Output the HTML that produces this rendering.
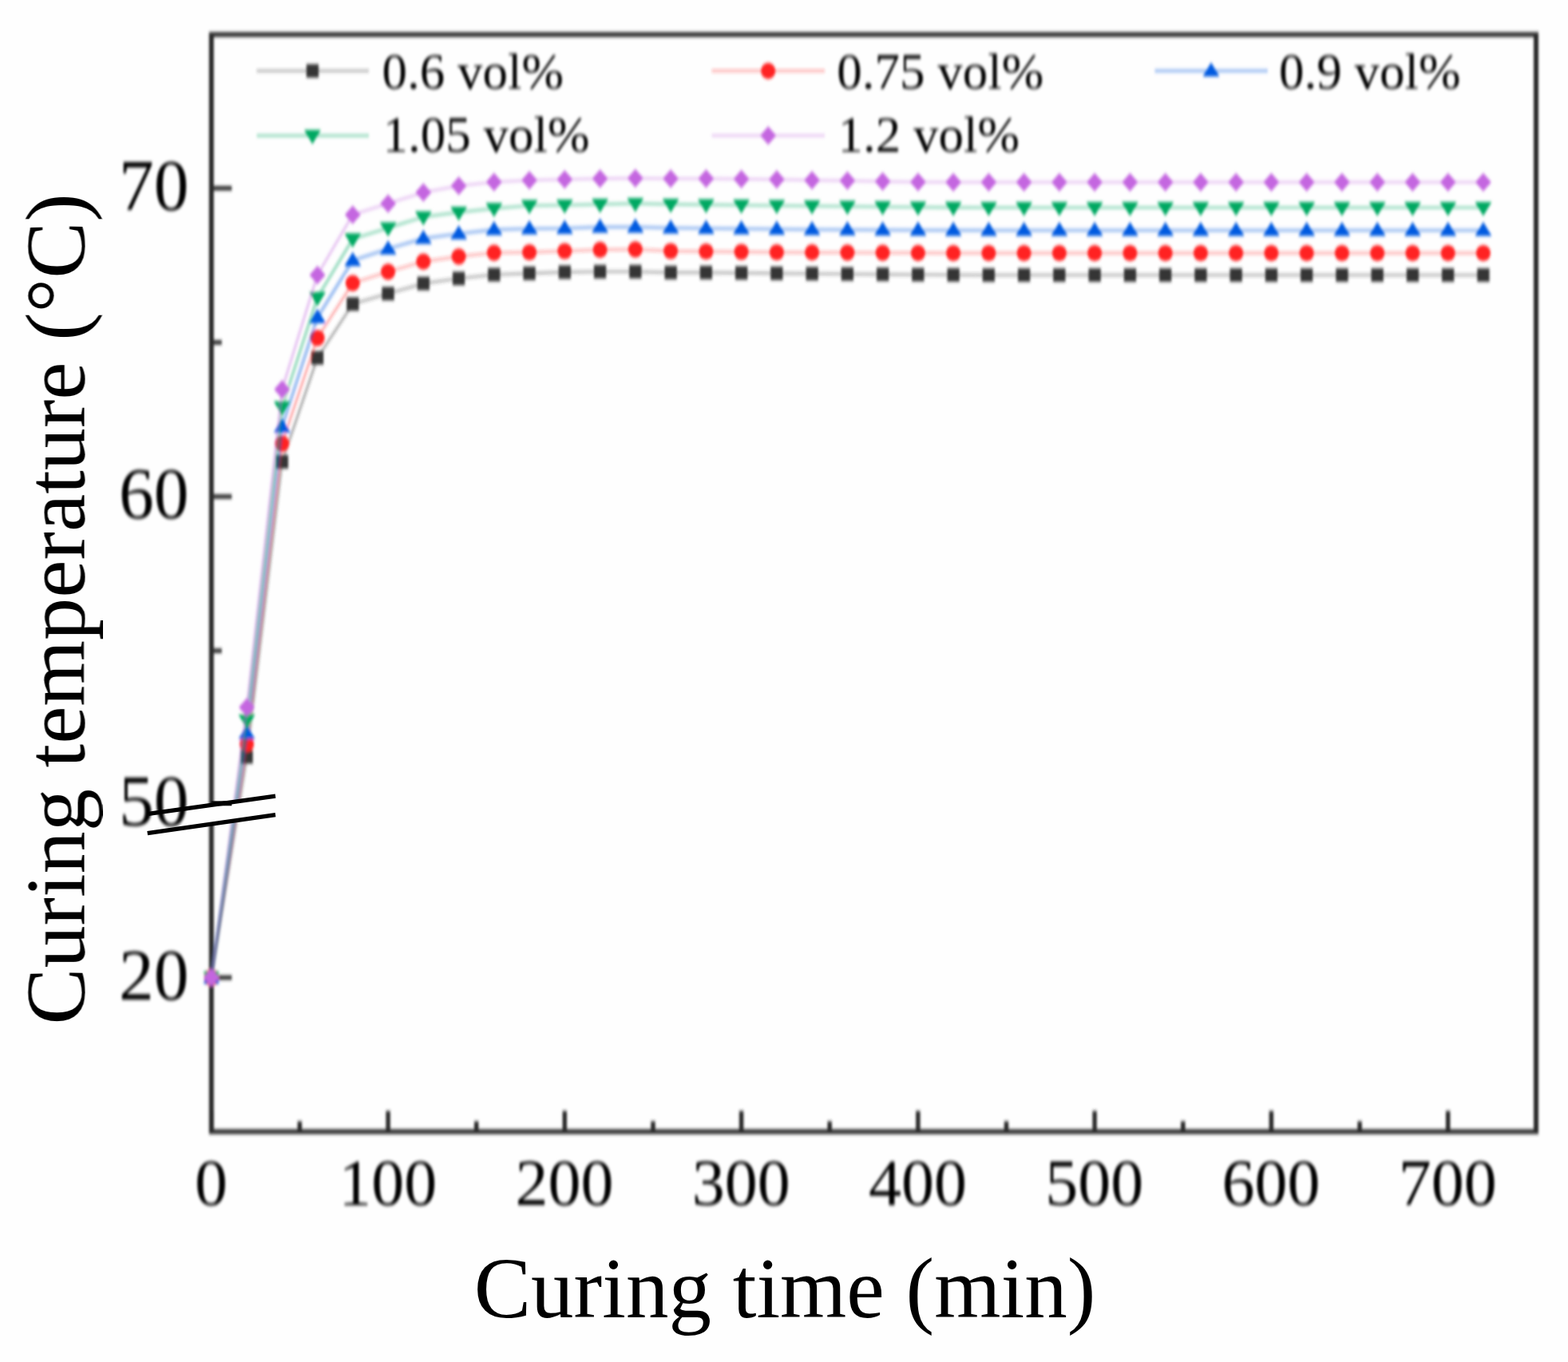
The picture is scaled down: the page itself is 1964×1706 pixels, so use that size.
<!DOCTYPE html><html><head><meta charset="utf-8"><title>Curing temperature vs curing time</title><style>html,body{margin:0;padding:0;background:#fff;}svg{display:block;}text{font-family:'Liberation Serif','Times New Roman',serif;fill:#000;}</style></head><body>
<svg width="1964" height="1706" viewBox="0 0 1964 1706">
<defs><filter id="bl" x="0" y="0" width="1964" height="1706" filterUnits="userSpaceOnUse"><feGaussianBlur stdDeviation="1.5 1.9"/></filter><filter id="bt" x="0" y="0" width="1964" height="1706" filterUnits="userSpaceOnUse"><feGaussianBlur stdDeviation="0.6 0.7"/></filter></defs>
<rect width="1964" height="1706" fill="#fefefe"/>
<g filter="url(#bl)">
<rect x="264.8" y="43.3" width="1659.2" height="1374.2" fill="none" stroke="#2b2b2b" stroke-width="6"/>
<line x1="264.8" y1="1417.5" x2="264.8" y2="1391.5" stroke="#2b2b2b" stroke-width="5.5"/>
<line x1="375.4" y1="1417.5" x2="375.4" y2="1404.5" stroke="#2b2b2b" stroke-width="5.5"/>
<line x1="486.1" y1="1417.5" x2="486.1" y2="1391.5" stroke="#2b2b2b" stroke-width="5.5"/>
<line x1="596.7" y1="1417.5" x2="596.7" y2="1404.5" stroke="#2b2b2b" stroke-width="5.5"/>
<line x1="707.3" y1="1417.5" x2="707.3" y2="1391.5" stroke="#2b2b2b" stroke-width="5.5"/>
<line x1="818.0" y1="1417.5" x2="818.0" y2="1404.5" stroke="#2b2b2b" stroke-width="5.5"/>
<line x1="928.6" y1="1417.5" x2="928.6" y2="1391.5" stroke="#2b2b2b" stroke-width="5.5"/>
<line x1="1039.2" y1="1417.5" x2="1039.2" y2="1404.5" stroke="#2b2b2b" stroke-width="5.5"/>
<line x1="1149.9" y1="1417.5" x2="1149.9" y2="1391.5" stroke="#2b2b2b" stroke-width="5.5"/>
<line x1="1260.5" y1="1417.5" x2="1260.5" y2="1404.5" stroke="#2b2b2b" stroke-width="5.5"/>
<line x1="1371.1" y1="1417.5" x2="1371.1" y2="1391.5" stroke="#2b2b2b" stroke-width="5.5"/>
<line x1="1481.8" y1="1417.5" x2="1481.8" y2="1404.5" stroke="#2b2b2b" stroke-width="5.5"/>
<line x1="1592.4" y1="1417.5" x2="1592.4" y2="1391.5" stroke="#2b2b2b" stroke-width="5.5"/>
<line x1="1703.1" y1="1417.5" x2="1703.1" y2="1404.5" stroke="#2b2b2b" stroke-width="5.5"/>
<line x1="1813.7" y1="1417.5" x2="1813.7" y2="1391.5" stroke="#2b2b2b" stroke-width="5.5"/>
<line x1="264.8" y1="235.8" x2="290.3" y2="235.8" stroke="#2b2b2b" stroke-width="5.5"/>
<line x1="264.8" y1="428.9" x2="277.8" y2="428.9" stroke="#2b2b2b" stroke-width="5.5"/>
<line x1="264.8" y1="622" x2="290.3" y2="622" stroke="#2b2b2b" stroke-width="5.5"/>
<line x1="264.8" y1="815.1" x2="277.8" y2="815.1" stroke="#2b2b2b" stroke-width="5.5"/>
<line x1="264.8" y1="1224.5" x2="290.3" y2="1224.5" stroke="#2b2b2b" stroke-width="5.5"/>
<polyline points="264.8,1224.5 309.1,948.0 353.3,578.5 397.6,448.2 441.8,380.8 486.1,367.8 530.3,355.1 574.6,348.8 618.8,344.0 663.1,342.4 707.3,340.9 751.6,340.3 795.8,340.3 840.1,341.4 884.4,341.4 928.6,341.9 972.9,342.4 1017.1,342.8 1061.4,343.2 1105.6,343.6 1149.9,344.0 1194.1,344.3 1238.4,344.5 1282.6,344.5 1326.9,344.5 1371.1,344.5 1415.4,344.5 1459.7,344.5 1503.9,344.5 1548.2,344.5 1592.4,344.5 1636.7,344.5 1680.9,344.5 1725.2,344.5 1769.4,344.5 1813.7,344.5 1857.9,344.5" fill="none" stroke="#363636" stroke-opacity="0.35" stroke-width="3.6" stroke-linejoin="round"/>
<rect x="257.2" y="1216.1" width="15.3" height="16.8" fill="#363636"/>
<rect x="301.4" y="939.6" width="15.3" height="16.8" fill="#363636"/>
<rect x="345.7" y="570.1" width="15.3" height="16.8" fill="#363636"/>
<rect x="389.9" y="439.8" width="15.3" height="16.8" fill="#363636"/>
<rect x="434.2" y="372.4" width="15.3" height="16.8" fill="#363636"/>
<rect x="478.4" y="359.4" width="15.3" height="16.8" fill="#363636"/>
<rect x="522.7" y="346.7" width="15.3" height="16.8" fill="#363636"/>
<rect x="566.9" y="340.4" width="15.3" height="16.8" fill="#363636"/>
<rect x="611.2" y="335.6" width="15.3" height="16.8" fill="#363636"/>
<rect x="655.4" y="334.0" width="15.3" height="16.8" fill="#363636"/>
<rect x="699.7" y="332.5" width="15.3" height="16.8" fill="#363636"/>
<rect x="743.9" y="331.9" width="15.3" height="16.8" fill="#363636"/>
<rect x="788.2" y="331.9" width="15.3" height="16.8" fill="#363636"/>
<rect x="832.5" y="333.0" width="15.3" height="16.8" fill="#363636"/>
<rect x="876.7" y="333.0" width="15.3" height="16.8" fill="#363636"/>
<rect x="921.0" y="333.5" width="15.3" height="16.8" fill="#363636"/>
<rect x="965.2" y="334.0" width="15.3" height="16.8" fill="#363636"/>
<rect x="1009.5" y="334.4" width="15.3" height="16.8" fill="#363636"/>
<rect x="1053.7" y="334.8" width="15.3" height="16.8" fill="#363636"/>
<rect x="1098.0" y="335.2" width="15.3" height="16.8" fill="#363636"/>
<rect x="1142.2" y="335.6" width="15.3" height="16.8" fill="#363636"/>
<rect x="1186.5" y="335.9" width="15.3" height="16.8" fill="#363636"/>
<rect x="1230.7" y="336.1" width="15.3" height="16.8" fill="#363636"/>
<rect x="1275.0" y="336.1" width="15.3" height="16.8" fill="#363636"/>
<rect x="1319.2" y="336.1" width="15.3" height="16.8" fill="#363636"/>
<rect x="1363.5" y="336.1" width="15.3" height="16.8" fill="#363636"/>
<rect x="1407.8" y="336.1" width="15.3" height="16.8" fill="#363636"/>
<rect x="1452.0" y="336.1" width="15.3" height="16.8" fill="#363636"/>
<rect x="1496.3" y="336.1" width="15.3" height="16.8" fill="#363636"/>
<rect x="1540.5" y="336.1" width="15.3" height="16.8" fill="#363636"/>
<rect x="1584.8" y="336.1" width="15.3" height="16.8" fill="#363636"/>
<rect x="1629.0" y="336.1" width="15.3" height="16.8" fill="#363636"/>
<rect x="1673.3" y="336.1" width="15.3" height="16.8" fill="#363636"/>
<rect x="1717.5" y="336.1" width="15.3" height="16.8" fill="#363636"/>
<rect x="1761.8" y="336.1" width="15.3" height="16.8" fill="#363636"/>
<rect x="1806.0" y="336.1" width="15.3" height="16.8" fill="#363636"/>
<rect x="1850.3" y="336.1" width="15.3" height="16.8" fill="#363636"/>
<polyline points="264.8,1224.5 309.1,932.0 353.3,555.6 397.6,423.3 441.8,354.6 486.1,340.3 530.3,327.7 574.6,321.3 618.8,316.6 663.1,316.0 707.3,314.5 751.6,312.9 795.8,312.4 840.1,314.5 884.4,315.0 928.6,315.5 972.9,316.0 1017.1,316.2 1061.4,316.4 1105.6,316.6 1149.9,316.8 1194.1,317.0 1238.4,317.0 1282.6,317.0 1326.9,317.0 1371.1,317.0 1415.4,317.0 1459.7,317.0 1503.9,317.0 1548.2,317.0 1592.4,317.0 1636.7,317.0 1680.9,317.0 1725.2,317.0 1769.4,317.0 1813.7,317.0 1857.9,317.0" fill="none" stroke="#ff2424" stroke-opacity="0.35" stroke-width="3.4" stroke-linejoin="round"/>
<ellipse cx="264.8" cy="1224.5" rx="9.1" ry="10.1" fill="#ff2424"/>
<ellipse cx="309.1" cy="932.0" rx="9.1" ry="10.1" fill="#ff2424"/>
<ellipse cx="353.3" cy="555.6" rx="9.1" ry="10.1" fill="#ff2424"/>
<ellipse cx="397.6" cy="423.3" rx="9.1" ry="10.1" fill="#ff2424"/>
<ellipse cx="441.8" cy="354.6" rx="9.1" ry="10.1" fill="#ff2424"/>
<ellipse cx="486.1" cy="340.3" rx="9.1" ry="10.1" fill="#ff2424"/>
<ellipse cx="530.3" cy="327.7" rx="9.1" ry="10.1" fill="#ff2424"/>
<ellipse cx="574.6" cy="321.3" rx="9.1" ry="10.1" fill="#ff2424"/>
<ellipse cx="618.8" cy="316.6" rx="9.1" ry="10.1" fill="#ff2424"/>
<ellipse cx="663.1" cy="316.0" rx="9.1" ry="10.1" fill="#ff2424"/>
<ellipse cx="707.3" cy="314.5" rx="9.1" ry="10.1" fill="#ff2424"/>
<ellipse cx="751.6" cy="312.9" rx="9.1" ry="10.1" fill="#ff2424"/>
<ellipse cx="795.8" cy="312.4" rx="9.1" ry="10.1" fill="#ff2424"/>
<ellipse cx="840.1" cy="314.5" rx="9.1" ry="10.1" fill="#ff2424"/>
<ellipse cx="884.4" cy="315.0" rx="9.1" ry="10.1" fill="#ff2424"/>
<ellipse cx="928.6" cy="315.5" rx="9.1" ry="10.1" fill="#ff2424"/>
<ellipse cx="972.9" cy="316.0" rx="9.1" ry="10.1" fill="#ff2424"/>
<ellipse cx="1017.1" cy="316.2" rx="9.1" ry="10.1" fill="#ff2424"/>
<ellipse cx="1061.4" cy="316.4" rx="9.1" ry="10.1" fill="#ff2424"/>
<ellipse cx="1105.6" cy="316.6" rx="9.1" ry="10.1" fill="#ff2424"/>
<ellipse cx="1149.9" cy="316.8" rx="9.1" ry="10.1" fill="#ff2424"/>
<ellipse cx="1194.1" cy="317.0" rx="9.1" ry="10.1" fill="#ff2424"/>
<ellipse cx="1238.4" cy="317.0" rx="9.1" ry="10.1" fill="#ff2424"/>
<ellipse cx="1282.6" cy="317.0" rx="9.1" ry="10.1" fill="#ff2424"/>
<ellipse cx="1326.9" cy="317.0" rx="9.1" ry="10.1" fill="#ff2424"/>
<ellipse cx="1371.1" cy="317.0" rx="9.1" ry="10.1" fill="#ff2424"/>
<ellipse cx="1415.4" cy="317.0" rx="9.1" ry="10.1" fill="#ff2424"/>
<ellipse cx="1459.7" cy="317.0" rx="9.1" ry="10.1" fill="#ff2424"/>
<ellipse cx="1503.9" cy="317.0" rx="9.1" ry="10.1" fill="#ff2424"/>
<ellipse cx="1548.2" cy="317.0" rx="9.1" ry="10.1" fill="#ff2424"/>
<ellipse cx="1592.4" cy="317.0" rx="9.1" ry="10.1" fill="#ff2424"/>
<ellipse cx="1636.7" cy="317.0" rx="9.1" ry="10.1" fill="#ff2424"/>
<ellipse cx="1680.9" cy="317.0" rx="9.1" ry="10.1" fill="#ff2424"/>
<ellipse cx="1725.2" cy="317.0" rx="9.1" ry="10.1" fill="#ff2424"/>
<ellipse cx="1769.4" cy="317.0" rx="9.1" ry="10.1" fill="#ff2424"/>
<ellipse cx="1813.7" cy="317.0" rx="9.1" ry="10.1" fill="#ff2424"/>
<ellipse cx="1857.9" cy="317.0" rx="9.1" ry="10.1" fill="#ff2424"/>
<polyline points="264.8,1224.5 309.1,918.8 353.3,534.7 397.6,397.7 441.8,326.3 486.1,311.8 530.3,298.6 574.6,292.8 618.8,287.6 663.1,286.5 707.3,286.0 751.6,284.4 795.8,284.4 840.1,285.5 884.4,286.0 928.6,286.5 972.9,287.0 1017.1,287.5 1061.4,287.8 1105.6,288.0 1149.9,288.2 1194.1,288.4 1238.4,288.5 1282.6,288.5 1326.9,288.5 1371.1,288.5 1415.4,288.5 1459.7,288.5 1503.9,288.5 1548.2,288.5 1592.4,288.5 1636.7,288.5 1680.9,288.5 1725.2,288.5 1769.4,288.5 1813.7,288.5 1857.9,288.5" fill="none" stroke="#005ae0" stroke-opacity="0.35" stroke-width="4.6" stroke-linejoin="round"/>
<polygon points="264.8,1213.9 275.3,1231.5 254.3,1231.5" fill="#005ae0"/>
<polygon points="309.1,908.2 319.6,925.8 298.6,925.8" fill="#005ae0"/>
<polygon points="353.3,524.1 363.8,541.7 342.8,541.7" fill="#005ae0"/>
<polygon points="397.6,387.1 408.1,404.7 387.1,404.7" fill="#005ae0"/>
<polygon points="441.8,315.7 452.3,333.3 431.3,333.3" fill="#005ae0"/>
<polygon points="486.1,301.2 496.6,318.8 475.6,318.8" fill="#005ae0"/>
<polygon points="530.3,288.0 540.8,305.6 519.8,305.6" fill="#005ae0"/>
<polygon points="574.6,282.2 585.1,299.8 564.1,299.8" fill="#005ae0"/>
<polygon points="618.8,277.0 629.3,294.6 608.3,294.6" fill="#005ae0"/>
<polygon points="663.1,275.9 673.6,293.5 652.6,293.5" fill="#005ae0"/>
<polygon points="707.3,275.4 717.8,293.0 696.8,293.0" fill="#005ae0"/>
<polygon points="751.6,273.8 762.1,291.4 741.1,291.4" fill="#005ae0"/>
<polygon points="795.8,273.8 806.3,291.4 785.3,291.4" fill="#005ae0"/>
<polygon points="840.1,274.9 850.6,292.5 829.6,292.5" fill="#005ae0"/>
<polygon points="884.4,275.4 894.9,293.0 873.9,293.0" fill="#005ae0"/>
<polygon points="928.6,275.9 939.1,293.5 918.1,293.5" fill="#005ae0"/>
<polygon points="972.9,276.4 983.4,294.0 962.4,294.0" fill="#005ae0"/>
<polygon points="1017.1,276.9 1027.6,294.5 1006.6,294.5" fill="#005ae0"/>
<polygon points="1061.4,277.2 1071.9,294.8 1050.9,294.8" fill="#005ae0"/>
<polygon points="1105.6,277.4 1116.1,295.0 1095.1,295.0" fill="#005ae0"/>
<polygon points="1149.9,277.6 1160.4,295.2 1139.4,295.2" fill="#005ae0"/>
<polygon points="1194.1,277.8 1204.6,295.4 1183.6,295.4" fill="#005ae0"/>
<polygon points="1238.4,277.9 1248.9,295.5 1227.9,295.5" fill="#005ae0"/>
<polygon points="1282.6,277.9 1293.1,295.5 1272.1,295.5" fill="#005ae0"/>
<polygon points="1326.9,277.9 1337.4,295.5 1316.4,295.5" fill="#005ae0"/>
<polygon points="1371.1,277.9 1381.6,295.5 1360.6,295.5" fill="#005ae0"/>
<polygon points="1415.4,277.9 1425.9,295.5 1404.9,295.5" fill="#005ae0"/>
<polygon points="1459.7,277.9 1470.2,295.5 1449.2,295.5" fill="#005ae0"/>
<polygon points="1503.9,277.9 1514.4,295.5 1493.4,295.5" fill="#005ae0"/>
<polygon points="1548.2,277.9 1558.7,295.5 1537.7,295.5" fill="#005ae0"/>
<polygon points="1592.4,277.9 1602.9,295.5 1581.9,295.5" fill="#005ae0"/>
<polygon points="1636.7,277.9 1647.2,295.5 1626.2,295.5" fill="#005ae0"/>
<polygon points="1680.9,277.9 1691.4,295.5 1670.4,295.5" fill="#005ae0"/>
<polygon points="1725.2,277.9 1735.7,295.5 1714.7,295.5" fill="#005ae0"/>
<polygon points="1769.4,277.9 1779.9,295.5 1758.9,295.5" fill="#005ae0"/>
<polygon points="1813.7,277.9 1824.2,295.5 1803.2,295.5" fill="#005ae0"/>
<polygon points="1857.9,277.9 1868.4,295.5 1847.4,295.5" fill="#005ae0"/>
<polyline points="264.8,1224.5 309.1,902.0 353.3,509.8 397.6,372.7 441.8,299.3 486.1,285.5 530.3,271.7 574.6,265.9 618.8,261.2 663.1,257.5 707.3,257.0 751.6,255.9 795.8,254.9 840.1,255.9 884.4,256.4 928.6,257.0 972.9,257.5 1017.1,258.0 1061.4,258.5 1105.6,259.0 1149.9,259.5 1194.1,259.8 1238.4,260.0 1282.6,260.0 1326.9,260.0 1371.1,260.0 1415.4,260.0 1459.7,260.0 1503.9,260.0 1548.2,260.0 1592.4,260.0 1636.7,260.0 1680.9,260.0 1725.2,260.0 1769.4,260.0 1813.7,260.0 1857.9,260.0" fill="none" stroke="#00a862" stroke-opacity="0.35" stroke-width="4.2" stroke-linejoin="round"/>
<polygon points="264.8,1235.1 275.3,1217.5 254.3,1217.5" fill="#00a862"/>
<polygon points="309.1,912.6 319.6,895.0 298.6,895.0" fill="#00a862"/>
<polygon points="353.3,520.4 363.8,502.8 342.8,502.8" fill="#00a862"/>
<polygon points="397.6,383.3 408.1,365.7 387.1,365.7" fill="#00a862"/>
<polygon points="441.8,309.9 452.3,292.3 431.3,292.3" fill="#00a862"/>
<polygon points="486.1,296.1 496.6,278.5 475.6,278.5" fill="#00a862"/>
<polygon points="530.3,282.3 540.8,264.7 519.8,264.7" fill="#00a862"/>
<polygon points="574.6,276.5 585.1,258.9 564.1,258.9" fill="#00a862"/>
<polygon points="618.8,271.8 629.3,254.2 608.3,254.2" fill="#00a862"/>
<polygon points="663.1,268.1 673.6,250.5 652.6,250.5" fill="#00a862"/>
<polygon points="707.3,267.6 717.8,250.0 696.8,250.0" fill="#00a862"/>
<polygon points="751.6,266.5 762.1,248.9 741.1,248.9" fill="#00a862"/>
<polygon points="795.8,265.5 806.3,247.9 785.3,247.9" fill="#00a862"/>
<polygon points="840.1,266.5 850.6,248.9 829.6,248.9" fill="#00a862"/>
<polygon points="884.4,267.0 894.9,249.4 873.9,249.4" fill="#00a862"/>
<polygon points="928.6,267.6 939.1,250.0 918.1,250.0" fill="#00a862"/>
<polygon points="972.9,268.1 983.4,250.5 962.4,250.5" fill="#00a862"/>
<polygon points="1017.1,268.6 1027.6,251.0 1006.6,251.0" fill="#00a862"/>
<polygon points="1061.4,269.1 1071.9,251.5 1050.9,251.5" fill="#00a862"/>
<polygon points="1105.6,269.6 1116.1,252.0 1095.1,252.0" fill="#00a862"/>
<polygon points="1149.9,270.1 1160.4,252.5 1139.4,252.5" fill="#00a862"/>
<polygon points="1194.1,270.4 1204.6,252.8 1183.6,252.8" fill="#00a862"/>
<polygon points="1238.4,270.6 1248.9,253.0 1227.9,253.0" fill="#00a862"/>
<polygon points="1282.6,270.6 1293.1,253.0 1272.1,253.0" fill="#00a862"/>
<polygon points="1326.9,270.6 1337.4,253.0 1316.4,253.0" fill="#00a862"/>
<polygon points="1371.1,270.6 1381.6,253.0 1360.6,253.0" fill="#00a862"/>
<polygon points="1415.4,270.6 1425.9,253.0 1404.9,253.0" fill="#00a862"/>
<polygon points="1459.7,270.6 1470.2,253.0 1449.2,253.0" fill="#00a862"/>
<polygon points="1503.9,270.6 1514.4,253.0 1493.4,253.0" fill="#00a862"/>
<polygon points="1548.2,270.6 1558.7,253.0 1537.7,253.0" fill="#00a862"/>
<polygon points="1592.4,270.6 1602.9,253.0 1581.9,253.0" fill="#00a862"/>
<polygon points="1636.7,270.6 1647.2,253.0 1626.2,253.0" fill="#00a862"/>
<polygon points="1680.9,270.6 1691.4,253.0 1670.4,253.0" fill="#00a862"/>
<polygon points="1725.2,270.6 1735.7,253.0 1714.7,253.0" fill="#00a862"/>
<polygon points="1769.4,270.6 1779.9,253.0 1758.9,253.0" fill="#00a862"/>
<polygon points="1813.7,270.6 1824.2,253.0 1803.2,253.0" fill="#00a862"/>
<polygon points="1857.9,270.6 1868.4,253.0 1847.4,253.0" fill="#00a862"/>
<polyline points="264.8,1224.5 309.1,886.0 353.3,487.8 397.6,344.4 441.8,269.0 486.1,254.9 530.3,241.1 574.6,232.7 618.8,228.0 663.1,225.8 707.3,224.8 751.6,223.7 795.8,223.2 840.1,223.7 884.4,223.7 928.6,224.3 972.9,224.8 1017.1,225.7 1061.4,226.2 1105.6,227.3 1149.9,228.0 1194.1,228.3 1238.4,228.2 1282.6,228.2 1326.9,228.2 1371.1,228.2 1415.4,228.2 1459.7,228.2 1503.9,228.2 1548.2,228.2 1592.4,228.2 1636.7,228.2 1680.9,228.2 1725.2,228.2 1769.4,228.2 1813.7,228.2 1857.9,228.2" fill="none" stroke="#c466e0" stroke-opacity="0.35" stroke-width="3.6" stroke-linejoin="round"/>
<polygon points="264.8,1213.0 274.8,1224.5 264.8,1236.0 254.8,1224.5" fill="#c466e0"/>
<polygon points="309.1,874.5 319.1,886.0 309.1,897.5 299.1,886.0" fill="#c466e0"/>
<polygon points="353.3,476.3 363.3,487.8 353.3,499.3 343.3,487.8" fill="#c466e0"/>
<polygon points="397.6,332.9 407.6,344.4 397.6,355.9 387.6,344.4" fill="#c466e0"/>
<polygon points="441.8,257.5 451.8,269.0 441.8,280.5 431.8,269.0" fill="#c466e0"/>
<polygon points="486.1,243.4 496.1,254.9 486.1,266.4 476.1,254.9" fill="#c466e0"/>
<polygon points="530.3,229.6 540.3,241.1 530.3,252.6 520.3,241.1" fill="#c466e0"/>
<polygon points="574.6,221.2 584.6,232.7 574.6,244.2 564.6,232.7" fill="#c466e0"/>
<polygon points="618.8,216.5 628.8,228.0 618.8,239.5 608.8,228.0" fill="#c466e0"/>
<polygon points="663.1,214.3 673.1,225.8 663.1,237.3 653.1,225.8" fill="#c466e0"/>
<polygon points="707.3,213.3 717.3,224.8 707.3,236.3 697.3,224.8" fill="#c466e0"/>
<polygon points="751.6,212.2 761.6,223.7 751.6,235.2 741.6,223.7" fill="#c466e0"/>
<polygon points="795.8,211.7 805.8,223.2 795.8,234.7 785.8,223.2" fill="#c466e0"/>
<polygon points="840.1,212.2 850.1,223.7 840.1,235.2 830.1,223.7" fill="#c466e0"/>
<polygon points="884.4,212.2 894.4,223.7 884.4,235.2 874.4,223.7" fill="#c466e0"/>
<polygon points="928.6,212.8 938.6,224.3 928.6,235.8 918.6,224.3" fill="#c466e0"/>
<polygon points="972.9,213.3 982.9,224.8 972.9,236.3 962.9,224.8" fill="#c466e0"/>
<polygon points="1017.1,214.2 1027.1,225.7 1017.1,237.2 1007.1,225.7" fill="#c466e0"/>
<polygon points="1061.4,214.7 1071.4,226.2 1061.4,237.7 1051.4,226.2" fill="#c466e0"/>
<polygon points="1105.6,215.8 1115.6,227.3 1105.6,238.8 1095.6,227.3" fill="#c466e0"/>
<polygon points="1149.9,216.5 1159.9,228.0 1149.9,239.5 1139.9,228.0" fill="#c466e0"/>
<polygon points="1194.1,216.8 1204.1,228.3 1194.1,239.8 1184.1,228.3" fill="#c466e0"/>
<polygon points="1238.4,216.7 1248.4,228.2 1238.4,239.7 1228.4,228.2" fill="#c466e0"/>
<polygon points="1282.6,216.7 1292.6,228.2 1282.6,239.7 1272.6,228.2" fill="#c466e0"/>
<polygon points="1326.9,216.7 1336.9,228.2 1326.9,239.7 1316.9,228.2" fill="#c466e0"/>
<polygon points="1371.1,216.7 1381.1,228.2 1371.1,239.7 1361.1,228.2" fill="#c466e0"/>
<polygon points="1415.4,216.7 1425.4,228.2 1415.4,239.7 1405.4,228.2" fill="#c466e0"/>
<polygon points="1459.7,216.7 1469.7,228.2 1459.7,239.7 1449.7,228.2" fill="#c466e0"/>
<polygon points="1503.9,216.7 1513.9,228.2 1503.9,239.7 1493.9,228.2" fill="#c466e0"/>
<polygon points="1548.2,216.7 1558.2,228.2 1548.2,239.7 1538.2,228.2" fill="#c466e0"/>
<polygon points="1592.4,216.7 1602.4,228.2 1592.4,239.7 1582.4,228.2" fill="#c466e0"/>
<polygon points="1636.7,216.7 1646.7,228.2 1636.7,239.7 1626.7,228.2" fill="#c466e0"/>
<polygon points="1680.9,216.7 1690.9,228.2 1680.9,239.7 1670.9,228.2" fill="#c466e0"/>
<polygon points="1725.2,216.7 1735.2,228.2 1725.2,239.7 1715.2,228.2" fill="#c466e0"/>
<polygon points="1769.4,216.7 1779.4,228.2 1769.4,239.7 1759.4,228.2" fill="#c466e0"/>
<polygon points="1813.7,216.7 1823.7,228.2 1813.7,239.7 1803.7,228.2" fill="#c466e0"/>
<polygon points="1857.9,216.7 1867.9,228.2 1857.9,239.7 1847.9,228.2" fill="#c466e0"/>
<text transform="translate(264.4,1509.3) scale(1,1.0)" font-size="82" text-anchor="middle">0</text>
<text transform="translate(485.7,1509.3) scale(1,1.0)" font-size="82" text-anchor="middle">100</text>
<text transform="translate(706.9,1509.3) scale(1,1.0)" font-size="82" text-anchor="middle">200</text>
<text transform="translate(928.2,1509.3) scale(1,1.0)" font-size="82" text-anchor="middle">300</text>
<text transform="translate(1149.5,1509.3) scale(1,1.0)" font-size="82" text-anchor="middle">400</text>
<text transform="translate(1370.7,1509.3) scale(1,1.0)" font-size="82" text-anchor="middle">500</text>
<text transform="translate(1592.0,1509.3) scale(1,1.0)" font-size="82" text-anchor="middle">600</text>
<text transform="translate(1813.3,1509.3) scale(1,1.0)" font-size="82" text-anchor="middle">700</text>
<text transform="translate(236.5,262.7) scale(1,1.045)" font-size="87.5" text-anchor="end">70</text>
<text transform="translate(236.5,648.9) scale(1,1.045)" font-size="87.5" text-anchor="end">60</text>
<text transform="translate(236.5,1034.2) scale(1,1.045)" font-size="87.5" text-anchor="end">50</text>
<text transform="translate(236.5,1252.2) scale(1,1.045)" font-size="87.5" text-anchor="end">20</text>
<line x1="321.6" y1="88.8" x2="462" y2="88.8" stroke="#363636" stroke-opacity="0.35" stroke-width="3.6"/>
<rect x="383.8" y="80.4" width="15.3" height="16.8" fill="#363636"/>
<text x="478.5" y="110.5" font-size="63">0.6 vol%</text>
<line x1="891.6" y1="88.8" x2="1033" y2="88.8" stroke="#ff2424" stroke-opacity="0.35" stroke-width="3.4"/>
<ellipse cx="962.2" cy="88.8" rx="9.1" ry="10.1" fill="#ff2424"/>
<text x="1048.3" y="110.5" font-size="63">0.75 vol%</text>
<line x1="1446.5" y1="88.8" x2="1587.8" y2="88.8" stroke="#005ae0" stroke-opacity="0.35" stroke-width="4.6"/>
<polygon points="1517.0,78.2 1527.5,95.8 1506.5,95.8" fill="#005ae0"/>
<text x="1602" y="110.5" font-size="63">0.9 vol%</text>
<line x1="321.6" y1="169.8" x2="462" y2="169.8" stroke="#00a862" stroke-opacity="0.35" stroke-width="4.2"/>
<polygon points="391.4,180.4 401.9,162.8 380.9,162.8" fill="#00a862"/>
<text x="479.5" y="190.3" font-size="63">1.05 vol%</text>
<line x1="891.6" y1="169.8" x2="1033" y2="169.8" stroke="#c466e0" stroke-opacity="0.35" stroke-width="3.6"/>
<polygon points="962.2,158.3 972.2,169.8 962.2,181.3 952.2,169.8" fill="#c466e0"/>
<text x="1049.5" y="190.3" font-size="63">1.2 vol%</text>
</g><g filter="url(#bt)">
<polygon points="238,1012 350,997 350,1020.5 238,1036" fill="#fefefe"/>
<line x1="264.8" y1="1006.3" x2="290.3" y2="1006.3" stroke="#111" stroke-width="6"/>
<line x1="186" y1="1019.4" x2="345" y2="997.1" stroke="#000" stroke-width="5.2"/>
<line x1="184.7" y1="1043.6" x2="345" y2="1020.6" stroke="#000" stroke-width="5.2"/>
<text x="983" y="1650" font-size="107" text-anchor="middle">Curing time (min)</text>
<text transform="translate(105.5,763) rotate(-90)" font-size="106.4" text-anchor="middle">Curing temperature (°C)</text>
</g></svg></body></html>
